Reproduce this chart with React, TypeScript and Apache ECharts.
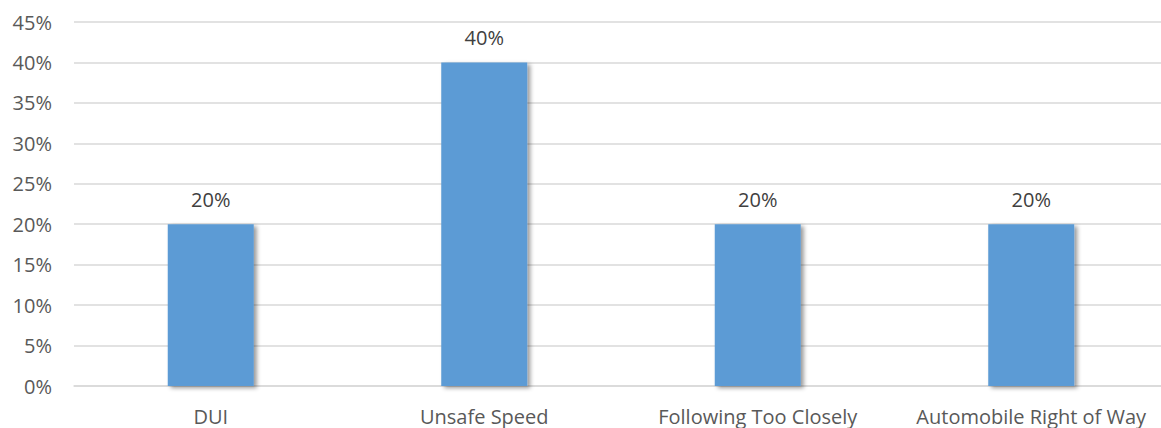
import React, { useEffect, useRef } from "react";
import * as echarts from "echarts";

const categories = ["DUI", "Unsafe Speed", "Following Too Closely", "Automobile Right of Way"];
const values = [20, 40, 20, 20];
const yTicks = { min: 0, max: 45, interval: 5 };

export default function App() {
  const ref = useRef<HTMLDivElement>(null);
  useEffect(() => {
    if (!ref.current) return;
    const chart = echarts.init(ref.current, null, { renderer: "svg" });
    const font = "'Open Sans', 'Noto Sans', sans-serif";
    chart.setOption({
      animation: false,
      grid: { left: 74, right: 0, top: 22, bottom: 42, containLabel: false },
      xAxis: {
        type: "category",
        data: categories,
        axisLine: { show: true, lineStyle: { color: "#d9d9d9", width: 1.5 } },
        axisTick: { show: false },
        axisLabel: { color: "#595959", fontSize: 20, fontFamily: font, margin: 20, interval: 0, hideOverlap: false },
      },
      yAxis: {
        type: "value",
        min: yTicks.min,
        max: yTicks.max,
        interval: yTicks.interval,
        axisLine: { show: false },
        axisTick: { show: false },
        splitLine: { lineStyle: { color: "#d9d9d9", width: 1.5 } },
        axisLabel: { color: "#595959", fontSize: 20, fontFamily: font, margin: 22, formatter: "{value}%" },
      },
      series: [
        {
          type: "bar",
          data: values,
          barWidth: 86,
          itemStyle: {
            color: "#5b9bd5",
            shadowColor: "rgba(0,0,0,0.4)",
            shadowBlur: 4,
            shadowOffsetX: 3,
            shadowOffsetY: 2,
          },
          label: {
            show: true,
            position: "top",
            distance: 15,
            formatter: "{c}%",
            color: "#404040",
            fontSize: 20,
            fontFamily: font,
          },
        },
      ],
    });
    return () => chart.dispose();
  }, []);
  return (
    <div style={{ position: "fixed", left: 0, top: 0, width: 1161, height: 428, overflow: "hidden", background: "#fff" }}>
      <div ref={ref} style={{ width: 1168, height: 428 }} />
    </div>
  );
}
